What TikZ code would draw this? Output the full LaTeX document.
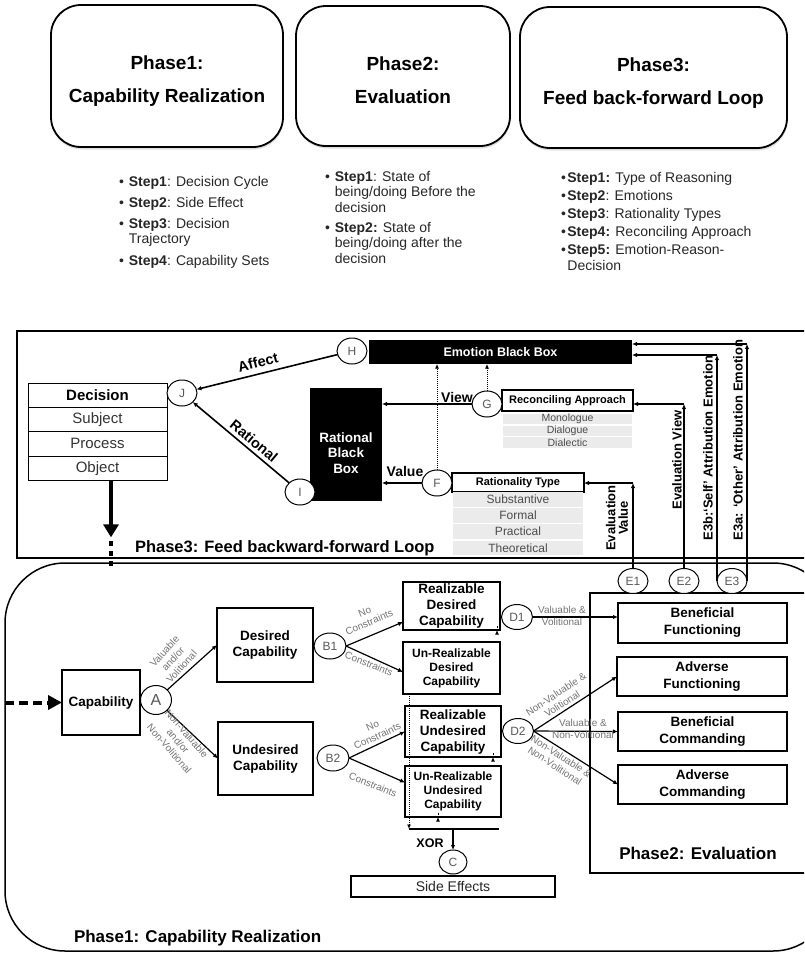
\documentclass[tikz,border=0pt]{standalone}
\usepackage{fontspec}
\setmainfont{Liberation Sans}
\usetikzlibrary{arrows.meta,shapes.geometric,calc,shadows}
\newcommand\fsz[2]{\fontsize{#1}{#2}\selectfont}
\begin{document}
\begin{tikzpicture}[x=1pt,y=-1pt,
  every node/.style={inner sep=0pt, outer sep=0pt},
  phbox/.style={draw, line width=1.8, rounded corners=30, fill=white,
    drop shadow={shadow xshift=0.5pt, shadow yshift=-2.5pt, opacity=0.25}},
  phtitle/.style={font=\fsz{19}{33}\bfseries, align=center},
  steps/.style={anchor=base west, text=black!85},
  frame/.style={line width=1.5},
  row/.style={draw, line width=1, minimum width=139, minimum height=24.3, font=\fsz{15}{15}, text=black!80},
  blackbox/.style={fill=black, text=white},
  hdrbox/.style={draw, line width=1.6, fill=white, font=\fsz{11}{11}\bfseries},
  bar/.style={fill=black!8, font=\fsz{10.5}{10.5}, text=black!70},
  tbox/.style={draw, line width=1.5, fill=white, align=center},
  circ/.style={draw, ellipse, line width=1, fill=white, minimum width=30, minimum height=26,
    font=\fsz{12}{12}, text=black!65},
  glab/.style={font=\fsz{10}{11.5}, text=black!55, align=center},
  blab/.style={font=\fsz{13}{12.5}\bfseries, align=center},
  arr/.style={line width=1.2, -{Latex[length=5pt,width=4.5pt]}},
  darr/.style={line width=1, densely dotted, -{Latex[length=4.5pt,width=4pt]}},
  thickarr/.style={line width=4, -{Triangle[length=13pt,width=15pt]}}
]
\path[use as bounding box, clip] (0,0) rectangle (804,954);

% ---------- the three phase headers ----------
\node[phbox, minimum width=232, minimum height=142] (p1box) at (167,76) {};
\node[phtitle] (p1txt) at (167,81) {Phase1:\\Capability Realization};
\node[phbox, minimum width=214, minimum height=140] (p2box) at (403,76) {};
\node[phtitle] (p2txt) at (403,80) {Phase2:\\Evaluation};
\node[phbox, minimum width=267, minimum height=141] (p3box) at (653.5,77.5) {};
\node[phtitle] (p3txt) at (653.5,83) {Phase3:\\Feed back-forward Loop};

% ---------- step lists ----------
\node[steps, font=\fsz{14}{15}] (s1) at (119,186) {%
  \begin{tabular}[t]{@{}l@{\hspace{5pt}}l@{}}
  \textbullet & \textbf{Step1}: Decision Cycle\\[6pt]
  \textbullet & \textbf{Step2}: Side Effect\\[6pt]
  \textbullet & \textbf{Step3}: Decision\\
              & Trajectory\\[7pt]
  \textbullet & \textbf{Step4}: Capability Sets
  \end{tabular}};
\node[steps, font=\fsz{14}{15.5}] (s2) at (325,181) {%
  \begin{tabular}[t]{@{}l@{\hspace{5pt}}l@{}}
  \textbullet & \textbf{Step1}: State of\\
              & being/doing Before the\\
              & decision\\[4.5pt]
  \textbullet & \textbf{Step2:} State of\\
              & being/doing after the\\
              & decision
  \end{tabular}};
\node[steps, font=\fsz{14}{18}] (s3) at (561,182) {%
  \begin{tabular}[t]{@{}l@{\hspace{1.5pt}}l@{}}
  \textbullet & \textbf{Step1:} Type of Reasoning\\
  \textbullet & \textbf{Step2}: Emotions\\
  \textbullet & \textbf{Step3}: Rationality Types\\
  \textbullet & \textbf{Step4:} Reconciling Approach\\
  \textbullet & \textbf{Step5:} Emotion-Reason-\\[-2pt]
              & Decision
  \end{tabular}};

% ---------- frames ----------
\draw[frame] (17,331) rectangle (812,558);
\draw[frame, rounded corners=60] (5,563) rectangle (833,951);
\draw[frame] (590,593) rectangle (812,873);

% ---------- phase 3: feed backward-forward loop ----------
\node[row, font=\fsz{15}{15}\bfseries, text=black] (dec) at (97.5,395.3) {Decision};
\node[row] (subj) at (97.5,419.6) {Subject};
\node[row] (proc) at (97.5,443.9) {Process};
\node[row] (obj) at (97.5,468.2) {Object};

\coordinate (objout) at ($(obj.south)+(13.5,0)$);
\coordinate (dropend) at ($(objout)+(0,57)$);
\coordinate (dashtop) at ($(objout)+(0,61)$);
\coordinate (dashbot) at ($(objout)+(0,87)$);
\draw[thickarr] (objout) -- (dropend);
\draw[line width=4, dash pattern=on 5pt off 5pt] (dashtop) -- (dashbot);

\node[blackbox, minimum width=72, minimum height=113] (rbb) at (346,444.5) {};
\node[font=\fsz{13.5}{15.5}\bfseries, text=white, align=center] (rbbt) at (346,453) {Rational\\Black\\Box};
\node[blackbox, minimum width=263, minimum height=24, font=\fsz{12.5}{13}\bfseries] (ebb) at (500.5,352) {Emotion Black Box};

\node[circ] (H) at (352,351) {H};
\node[circ] (J) at (182,393) {J};
\node[circ] (I) at (300,492) {I};
\draw[arr, line width=1.6] (H) -- (J);
\draw[arr, line width=1.6] (I) -- (J);
\node[font=\fsz{14.5}{14.5}\bfseries, rotate=14] (affl) at (258,362) {Affect};
\node[font=\fsz{14.5}{14.5}\bfseries, rotate=-40] (ratl) at (254,441) {Rational};

\node[hdrbox, minimum width=131, minimum height=21] (ra) at (567.5,400.5) {Reconciling Approach};
\node[bar, minimum width=129, minimum height=10.5] (mono) at (567.5,419) {Monologue};
\node[bar, minimum width=129, minimum height=10.5] (dia) at (567.5,431) {Dialogue};
\node[bar, minimum width=129, minimum height=10.5] (dial) at (567.5,442.5) {Dialectic};

\node[hdrbox, minimum width=132, minimum height=19] (rt) at (518,482.5) {Rationality Type};
\node[bar, minimum width=130, minimum height=14.5, font=\fsz{12}{12}] (subst) at (518,499.5) {Substantive};
\node[bar, minimum width=130, minimum height=14.5, font=\fsz{12}{12}] (formal) at (518,515.5) {Formal};
\node[bar, minimum width=130, minimum height=14.5, font=\fsz{12}{12}] (pract) at (518,531.5) {Practical};
\node[bar, minimum width=130, minimum height=14.5, font=\fsz{12}{12}] (theo) at (518,548) {Theoretical};

\node[circ] (G) at (487,404) {G};
\node[circ] (F) at (437,483) {F};
\draw[arr] (G.west) -- (G.west -| rbb.east);
\draw[arr] (F.west) -- (F.west -| rbb.east);
\draw[darr] (F.north) -- (F.north |- ebb.south);
\draw[darr] (G.north) -- (G.north |- ebb.south);
\node[font=\fsz{14}{14}\bfseries] (viewl) at (457,397) {View};
\node[font=\fsz{14}{14}\bfseries] (valuel) at (405,471) {Value};

\node[font=\fsz{16.5}{16.5}\bfseries, anchor=west] (p3lab) at (135,548) {Phase3: Feed backward-forward Loop};

% evaluation feedback lines
\node[circ, minimum height=25] (E1) at (633,581) {E1};
\node[circ, minimum height=25] (E2) at (684,581) {E2};
\node[circ, minimum height=25] (E3) at (732,581) {E3};
\coordinate (e1c) at (633,483);
\coordinate (e2c) at (684,404);
\coordinate (e3bc) at (717,355);
\coordinate (e3ac) at (747,344);
\draw[arr] (E1.north) -- (e1c);
\draw[arr] (e1c) -- (e1c -| rt.east);
\draw[arr] (E2.north) -- (e2c);
\draw[arr] (e2c) -- (e2c -| ra.east);
\draw[arr] (E3.west) -- (e3bc);
\draw[arr] (e3bc) -- (e3bc -| ebb.east);
\draw[arr] (E3.east) -- (e3ac);
\draw[arr] (e3ac) -- (e3ac -| ebb.east);
\node[blab, rotate=90] (evl) at (617,518) {Evaluation\\Value};
\node[blab, rotate=90] (evv) at (677,460) {Evaluation View};
\node[blab, rotate=90] (e3bl) at (708,448) {E3b:‘Self’ Attribution Emotion};
\node[blab, rotate=90] (e3al) at (738,440) {E3a: ‘Other’ Attribution Emotion};

% ---------- phase 1: capability realization ----------
\node[tbox, minimum width=78, minimum height=65, font=\fsz{13.5}{16}\bfseries] (cap) at (101,702.5) {Capability};
\coordinate (capin) at (5,702.5);
\draw[line width=4, dash pattern=on 9pt off 5pt, -{Triangle[length=14pt,width=14pt]}] (capin) -- (cap.west);

\node[circ, minimum width=31, minimum height=29, font=\fsz{16}{16}] (A) at (156,700) {A};
\node[tbox, minimum width=96, minimum height=74, font=\fsz{13.5}{16}\bfseries] (des) at (265,645) {Desired\\Capability};
\node[tbox, minimum width=95, minimum height=73, font=\fsz{13.5}{16}\bfseries] (und) at (265.5,758.5) {Undesired\\Capability};
\draw[arr] (A) -- (des.west);
\draw[arr] (A) -- (und.west);
\node[glab, rotate=48] (lvv) at (173,659) {Valuable\\and/or\\Volitional};
\node[glab, rotate=-49] (lnv) at (178,741) {Non-Valuable\\and/or\\Non-Volitional};

\node[circ, minimum width=32] (B1) at (330,646) {B1};
\node[circ, minimum width=32] (B2) at (333,758) {B2};

\node[tbox, minimum width=97, minimum height=48, font=\fsz{13.5}{16}\bfseries] (rd) at (451.5,606) {Realizable\\Desired\\Capability};
\node[tbox, minimum width=97, minimum height=52, font=\fsz{12}{14}\bfseries] (urd) at (451.5,668) {Un-Realizable\\Desired\\Capability};
\node[tbox, minimum width=96, minimum height=51, font=\fsz{13.5}{16}\bfseries] (ru) at (453,731.5) {Realizable\\Undesired\\Capability};
\node[tbox, minimum width=96, minimum height=51, font=\fsz{12}{14}\bfseries] (uu) at (453,791.5) {Un-Realizable\\Undesired\\Capability};

\draw[arr] (B1.east) -- ($(rd.south west)+(0,-8)$);
\draw[arr] (B1.east) -- ($(urd.west)+(0,4)$);
\draw[arr] (B2.east) -- (ru.west);
\draw[arr] (B2.east) -- ($(uu.west)+(0,-9)$);
\node[glab, rotate=23] (b1no) at (367,617) {No\\Constraints};
\node[glab, rotate=-22] (b1c) at (369,664) {Constraints};
\node[glab, rotate=25] (b2no) at (375,731) {No\\Constraints};
\node[glab, rotate=-22] (b2c) at (373,785) {Constraints};

% XOR merge of the four outcomes
\coordinate (xl) at (409,829);
\coordinate (xr) at (499,829);
\coordinate (xm) at (453,829);
\draw[line width=1.2] (xl) -- (xr);
\draw[darr] ($(urd.south west)+(6,0)$) -- (xl);
\draw[darr] ($(rd.south east)+(-3,0)$) -- ($(rd.south east)+(-3,0)$ |- xl);
\draw[darr] ($(ru.south east)+(-8,0)$) -- ($(ru.south east)+(-8,0)$ |- xl);
\draw[darr] ($(uu.south west)+(33,0)$) -- ($(uu.south west)+(33,0)$ |- xl);
\node[circ, minimum width=28, minimum height=24] (C) at (453,862) {C};
\draw[arr] (xm) -- (C.north);
\node[font=\fsz{12.5}{12.5}\bfseries] (xor) at (430,843) {XOR};
\node[draw, line width=1.3, minimum width=204, minimum height=21, font=\fsz{14}{14}, text=black!85] (se) at (453,886.5) {Side Effects};

\node[font=\fsz{17}{17}\bfseries, anchor=west] (p1lab) at (74,938) {Phase1: Capability Realization};

% ---------- phase 2: evaluation ----------
\node[circ, minimum width=31, minimum height=25] (D1) at (517,617) {D1};
\node[circ, minimum width=31, minimum height=25] (D2) at (518,731) {D2};
\node[tbox, minimum width=169, minimum height=40, font=\fsz{13.5}{17}\bfseries] (bf) at (702.5,623) {Beneficial\\Functioning};
\node[tbox, minimum width=170, minimum height=39, font=\fsz{13.5}{17}\bfseries] (af) at (702,676.5) {Adverse\\Functioning};
\node[tbox, minimum width=169, minimum height=39, font=\fsz{13.5}{17}\bfseries] (bc) at (702.5,731.5) {Beneficial\\Commanding};
\node[tbox, minimum width=169, minimum height=39, font=\fsz{13.5}{17}\bfseries] (ac) at (702.5,784.5) {Adverse\\Commanding};

\draw[arr] (D1.east) -- (D1.east -| bf.west);
\draw[arr] (D2.east) -- (af.west);
\draw[arr] (D2.east) -- (bc.west);
\draw[arr] (D2.east) -- (ac.west);
\node[glab] (d1l) at (562,616) {Valuable \&\\Volitional};
\node[glab, rotate=33] (d2a) at (559,699) {Non-Valuable \&\\Volitional};
\node[glab] (d2b) at (583,729) {Valuable \&\\Non-Volitional};
\node[glab, rotate=-33] (d2c) at (558,761) {Non-Valuable \&\\Non-Volitional};

\node[font=\fsz{17}{17}\bfseries] (p2lab) at (698,853) {Phase2: Evaluation};
\end{tikzpicture}
\end{document}
